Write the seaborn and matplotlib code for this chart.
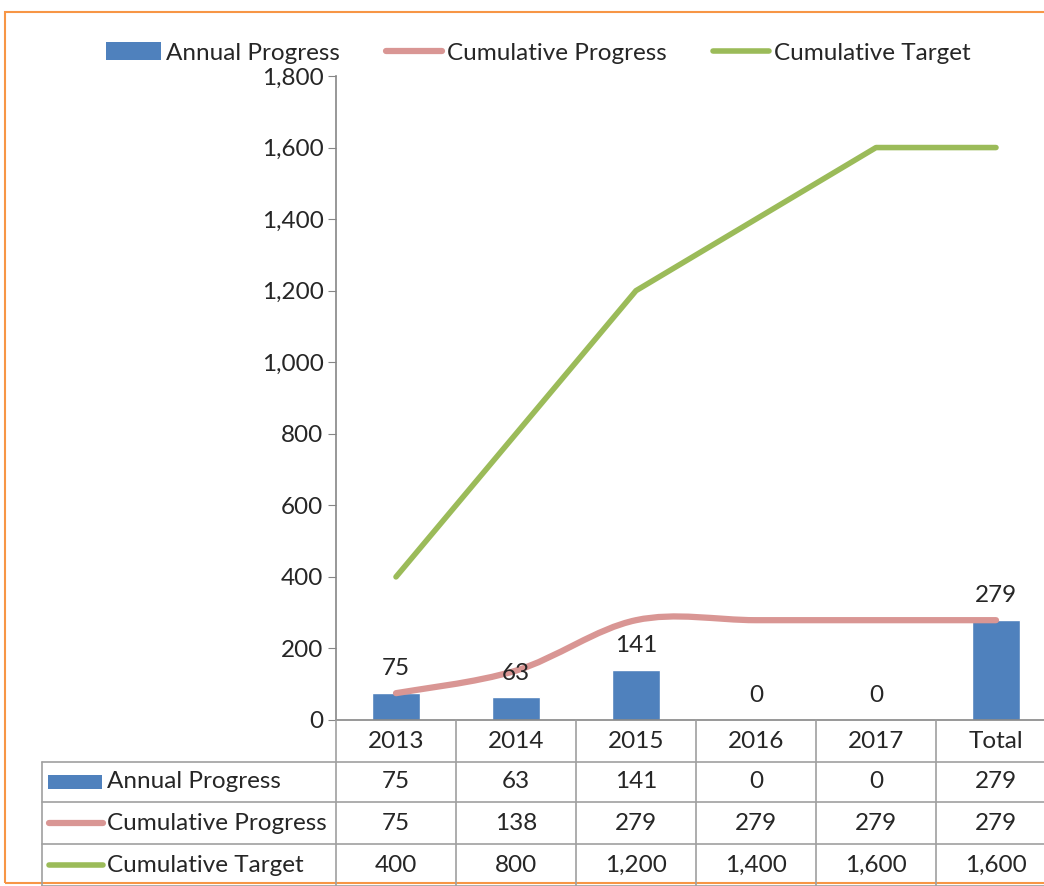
import numpy as np
import matplotlib
matplotlib.use("Agg")
import matplotlib.pyplot as plt
import matplotlib.transforms as mtransforms
import seaborn as sns
from matplotlib.path import Path
from matplotlib.patches import PathPatch, Patch, Rectangle
from matplotlib.lines import Line2D
from matplotlib.ticker import FuncFormatter

# data
categories = ["2013", "2014", "2015", "2016", "2017", "Total"]
annual_progress = [75, 63, 141, 0, 0, 279]
cumulative_progress = [75, 138, 279, 279, 279, 279]
cumulative_target = [400, 800, 1200, 1400, 1600, 1600]
series_names = ["Annual Progress", "Cumulative Progress", "Cumulative Target"]
y_ticks = [0, 200, 400, 600, 800, 1000, 1200, 1400, 1600, 1800]

BLUE = "#4F81BD"
PINK = "#D99694"
GREEN = "#9BBB59"
ORANGE = "#F79646"
AXIS = "#868686"
GRID = "#A0A0A0"
FS = 17.5

sns.set_style("white")
plt.rcParams["font.family"] = ["Lato", "DejaVu Sans"]

W, H = 1044, 886
fig = plt.figure(figsize=(W / 100, H / 100), dpi=100)


def fx(px):
    return px / W


def fy(py):
    return 1 - py / H


ax = fig.add_axes([fx(336), fy(720), 720 / W, 644 / H])
xpos = np.arange(len(categories))

#### bars + lines ####
sns.barplot(x=categories, y=annual_progress, color=BLUE, saturation=1,
            width=0.4, ax=ax, zorder=2)
sns.lineplot(x=xpos, y=cumulative_target, color=GREEN, linewidth=4,
             ax=ax, legend=False, zorder=3, solid_capstyle="round")

# smoothed line (Excel style) for cumulative progress
pts = np.column_stack([xpos, cumulative_progress]).astype(float)
ext = np.vstack([pts[0], pts, pts[-1]])
verts = [pts[0]]
codes = [Path.MOVETO]
for i in range(len(pts) - 1):
    p0, p1, p2, p3 = ext[i], ext[i + 1], ext[i + 2], ext[i + 3]
    verts += [p1 + (p2 - p0) / 6, p2 - (p3 - p1) / 6, p2]
    codes += [Path.CURVE4] * 3
ax.add_patch(PathPatch(Path(verts, codes), fill=False, edgecolor=PINK,
                       lw=4.5, capstyle="round", zorder=3))

# data labels
for i, v in enumerate(annual_progress):
    ax.annotate(f"{v:,}", (i, v), xytext=(0, 10), textcoords="offset points",
                ha="center", va="bottom", fontsize=FS, zorder=5)

#### axes styling ####
ax.set_xlim(-0.5, len(categories) - 0.5)
ax.set_ylim(0, 1800)
ax.set_yticks(y_ticks)
ax.yaxis.set_major_formatter(FuncFormatter(lambda v, p: f"{int(v):,}"))
ax.set_xticks([])
ax.set_xlabel("")
ax.set_ylabel("")
ax.tick_params(axis="y", direction="out", length=6, color=AXIS,
               labelsize=FS, pad=3, left=True)
for s in ["top", "right"]:
    ax.spines[s].set_visible(False)
for s in ["left", "bottom"]:
    ax.spines[s].set_color(AXIS)
    ax.spines[s].set_linewidth(1.2)

#### data table under the axis ####
tr = mtransforms.blended_transform_factory(ax.transData, fig.transFigure)
row_mid = [782, 823, 865]
row_lines = [762, 802, 844, 886]

# header (category names)
for i, c in enumerate(categories):
    ax.text(i, fy(741), c, transform=tr, ha="center", va="center",
            fontsize=FS, clip_on=False)

# vertical lines
for k in range(len(categories) + 1):
    fig.add_artist(Line2D([k - 0.5, k - 0.5], [fy(720), fy(886)],
                          transform=tr, color=GRID, lw=1.2))
fig.add_artist(Line2D([fx(42), fx(42)], [fy(762), fy(886)],
                      transform=fig.transFigure, color=GRID, lw=1.2))
# horizontal lines
for yl in row_lines:
    fig.add_artist(Line2D([fx(42), fx(1056)], [fy(yl), fy(yl)],
                          transform=fig.transFigure, color=GRID, lw=1.2))

table_rows = [annual_progress, cumulative_progress, cumulative_target]
for r, (name, vals) in enumerate(zip(series_names, table_rows)):
    ym = row_mid[r]
    for i, v in enumerate(vals):
        ax.text(i, fy(ym), f"{v:,}", transform=tr, ha="center", va="center",
                fontsize=FS, clip_on=False)
    fig.text(fx(107), fy(ym), name, ha="left", va="center", fontsize=FS)

# legend keys inside the table
fig.add_artist(Rectangle((fx(48), fy(789)), fx(102) - fx(48), fy(775) - fy(789),
                         transform=fig.transFigure, facecolor=BLUE,
                         edgecolor="none"))
fig.add_artist(Line2D([fx(49), fx(103)], [fy(823), fy(823)],
                      transform=fig.transFigure, color=PINK, lw=4.5,
                      solid_capstyle="round"))
fig.add_artist(Line2D([fx(49), fx(103)], [fy(865), fy(865)],
                      transform=fig.transFigure, color=GREEN, lw=4,
                      solid_capstyle="round"))

#### top legend ####
handles = [Patch(facecolor=BLUE, edgecolor="none"),
           Line2D([], [], color=PINK, lw=4.5, solid_capstyle="round"),
           Line2D([], [], color=GREEN, lw=4, solid_capstyle="round")]
fig.legend(handles, series_names, loc="center",
           bbox_to_anchor=(fx(538), fy(53)), ncol=3, frameon=False,
           fontsize=FS, handlelength=2.3, handletextpad=0.2,
           columnspacing=1.9)

# orange chart border
fig.add_artist(Rectangle((fx(5), fy(883)), 1.2, fy(12) - fy(883),
                         transform=fig.transFigure, fill=False,
                         edgecolor=ORANGE, lw=1.5))

fig.savefig("out.png", dpi=100)
